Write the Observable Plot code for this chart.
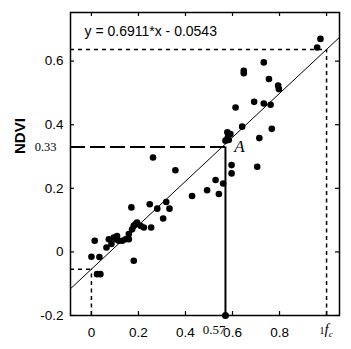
<!DOCTYPE html>
<html>
<head>
<meta charset="utf-8">
<script src="https://cdn.jsdelivr.net/npm/d3@7"></script>
<script src="https://cdn.jsdelivr.net/npm/@observablehq/plot@0.6"></script>
<style>
  html, body { margin: 0; padding: 0; background: white; }
  svg { display: block; }
</style>
</head>
<body>
<div id="chart"></div>
<script>
// ---- data ----
const fcX = [0.000, 0.014, 0.034, 0.024, 0.038, 0.064, 0.074, 0.085, 0.095, 0.109,
             0.102, 0.116, 0.131, 0.145, 0.159, 0.170, 0.180, 0.173, 0.180, 0.187,
             0.194, 0.209, 0.223, 0.159, 0.248, 0.254, 0.280, 0.305, 0.318, 0.332,
             0.262, 0.357, 0.428, 0.492, 0.528, 0.542, 0.560, 0.596, 0.596, 0.578,
             0.591, 0.580, 0.570, 0.584, 0.613, 0.641, 0.692, 0.705, 0.974, 0.960,
             0.733, 0.648, 0.648, 0.755, 0.794, 0.797, 0.733, 0.762, 0.767, 0.714];
const ndviY = [-0.015, 0.035, -0.016, -0.070, -0.070, 0.014, 0.040, 0.025, 0.045, 0.050,
               0.040, 0.035, 0.035, 0.040, 0.040, 0.140, -0.028, 0.071, 0.082, 0.087,
               0.092, 0.082, 0.077, 0.056, 0.150, 0.077, 0.136, 0.105, 0.157, 0.136,
               0.297, 0.257, 0.176, 0.194, 0.226, 0.182, 0.215, 0.273, 0.247, 0.376,
               0.371, 0.360, 0.350, 0.352, 0.454, 0.394, 0.472, 0.268, 0.670, 0.643,
               0.596, 0.570, 0.562, 0.544, 0.523, 0.512, 0.467, 0.463, 0.387, 0.358];

const slope = 0.6911, intercept = -0.0543;
const equationText = "y = 0.6911*x - 0.0543";
const xTicks = [0, 0.2, 0.4, 0.6, 0.8];
const yTicks = [-0.2, 0, 0.2, 0.4, 0.6];
const pointA = {x: 0.57, y: 0.33};
const aLabels = ["0.57", "0.33"];
const fcTopY = 0.637;      // NDVI at fc = 1
const lowY = -0.0543;      // intercept level at x = 0
const xDomain = [-0.089, 1.055];
const yDomain = [-0.2, 0.753];

const points = fcX.map((x, i) => ({x, y: ndviY[i]}));
const regLine = xDomain.map(x => ({x, y: slope * x + intercept}));

const W = 351, H = 349, mL = 70, mR = 12, mT = 12, mB = 34;
const pw = W - mL - mR, ph = H - mT - mB;
const serif = "'Liberation Serif', 'Times New Roman', serif";

const chart = Plot.plot({
  width: W, height: H,
  marginLeft: mL, marginRight: mR, marginTop: mT, marginBottom: mB,
  style: {fontFamily: "'Liberation Sans', Arial, sans-serif", fontSize: "13.5px", color: "black", background: "white"},
  x: {domain: xDomain, ticks: xTicks, tickFormat: d => String(d), tickSize: 0, tickPadding: 12, label: null},
  y: {domain: yDomain, ticks: yTicks, tickFormat: d => String(d), tickSize: 0, tickPadding: 7, label: null},
  marks: [
    // inward tick marks
    Plot.tickY(yTicks, {y: d => d, insetRight: pw - 4, stroke: "black", strokeWidth: 1.2}),
    Plot.tickY(yTicks, {y: d => d, insetLeft: pw - 4, stroke: "black", strokeWidth: 1.2}),
    Plot.tickX(xTicks.concat([1]), {x: d => d, insetTop: ph - 4, stroke: "black", strokeWidth: 1.2}),
    Plot.tickX(xTicks.concat([1]), {x: d => d, insetBottom: ph - 4, stroke: "black", strokeWidth: 1.2}),
    // reference lines
    Plot.ruleY([fcTopY], {x1: xDomain[0], x2: 1, stroke: "black", strokeWidth: 1.5, strokeDasharray: "4,4"}),
    Plot.ruleX([1], {y1: yDomain[0], y2: fcTopY, stroke: "black", strokeWidth: 1.5, strokeDasharray: "4,3.5"}),
    Plot.ruleY([lowY], {x1: xDomain[0], x2: 0, stroke: "black", strokeWidth: 1.5, strokeDasharray: "4,4"}),
    Plot.ruleX([0], {y1: yDomain[0], y2: lowY, stroke: "black", strokeWidth: 1.5, strokeDasharray: "4,3.5"}),
    Plot.ruleY([pointA.y], {x1: xDomain[0], x2: pointA.x, stroke: "black", strokeWidth: 2, strokeDasharray: "15,5"}),
    Plot.ruleX([pointA.x], {y1: yDomain[0], y2: pointA.y, stroke: "black", strokeWidth: 2}),
    // regression line
    Plot.line(regLine, {x: "x", y: "y", stroke: "black", strokeWidth: 1}),
    // data points
    Plot.dot(points, {x: "x", y: "y", r: 3.3, fill: "black", stroke: "none"}),
    Plot.dot([pointA], {x: "x", y: () => yDomain[0], r: 3.5, fill: "black"}),
    // labels
    Plot.text([equationText], {frameAnchor: "top-left", dx: 14, dy: 14, textAnchor: "start", fontSize: 14, fill: "black"}),
    Plot.text(["A"], {x: () => pointA.x, y: () => pointA.y, dx: 14, dy: 0, fontFamily: serif, fontStyle: "italic", fontSize: 17, fill: "black"}),
    Plot.text([aLabels[1]], {y: () => pointA.y, frameAnchor: "left", dx: -14, textAnchor: "end", fontFamily: serif, fontSize: 12.5, letterSpacing: "-0.8px", fill: "black"}),
    Plot.text([aLabels[0]], {x: () => pointA.x, frameAnchor: "bottom", dy: 18, dx: 0, textAnchor: "end", fontFamily: serif, fontSize: 13, letterSpacing: "-0.6px", fill: "black"}),
    Plot.text(["fc"], {x: () => 1, frameAnchor: "bottom", dy: 18, dx: -7, textAnchor: "start", className: "fc-label", fontFamily: serif, fontSize: 15, fill: "black"}),
    Plot.text(["NDVI"], {frameAnchor: "left", dx: -50, dy: -10, rotate: -90, fontSize: 15, fontWeight: "bold", fill: "black"}),
    Plot.frame({stroke: "black", strokeWidth: 1.5})
  ]
});

// format the f_c label with an italic f and subscript c, preceded by a small "1"
const fcText = d3.select(chart).select(".fc-label text");
fcText.text(null);
fcText.append("tspan").attr("font-size", 10).attr("font-style", "normal").text("1");
fcText.append("tspan").attr("font-style", "italic").text("f");
fcText.append("tspan").attr("font-style", "italic").attr("font-size", 9).attr("dy", 3).text("c");

document.getElementById("chart").appendChild(chart);
</script>
</body>
</html>
